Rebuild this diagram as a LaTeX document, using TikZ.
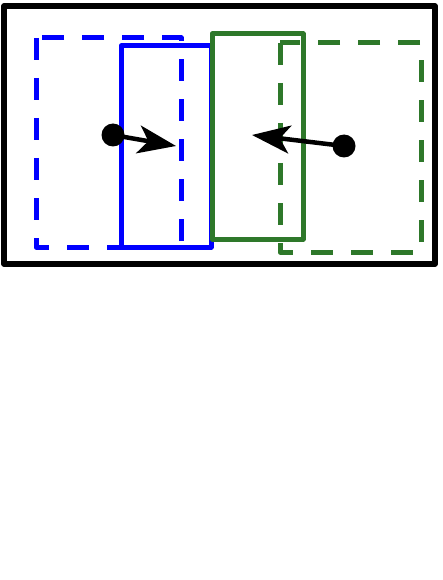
\documentclass[tikz,border=0pt]{standalone}
\usetikzlibrary{arrows.meta}
\definecolor{dgreen}{RGB}{46,120,42}
\tikzset{
  frame/.style={draw=black,line width=5.5pt,line join=round},
  bluebox/.style={draw=blue,line width=5pt,line join=round},
  greenbox/.style={draw=dgreen,line width=5pt,line join=round},
  dashbox/.style={dash pattern=on 22pt off 18pt},
  dot/.style={circle,fill=black,inner sep=0pt,minimum size=23pt},
  move/.style={line width=4.5pt,-{Stealth[length=38pt,width=28pt,inset=10pt]}}
}
\begin{document}
\begin{tikzpicture}[x=1pt,y=-1pt]
\useasboundingbox (0,0) rectangle (442,580);
\draw[frame] (4,6) rectangle (435,264);
\draw[bluebox,dashbox] (36,38) rectangle (181,247);
\draw[bluebox] (121,46) rectangle (211,247);
\draw[greenbox] (212,34) rectangle (303,239);
\draw[greenbox,dashbox] (280,43) rectangle (421,252);
\node[dot] (b) at (113,135) {};
\node[dot] (g) at (344,146) {};
\coordinate (bt) at (176,146);
\coordinate (gt) at (252,135);
\draw[move] (b.center) -- (bt);
\draw[move] (g.center) -- (gt);
\end{tikzpicture}
\end{document}
